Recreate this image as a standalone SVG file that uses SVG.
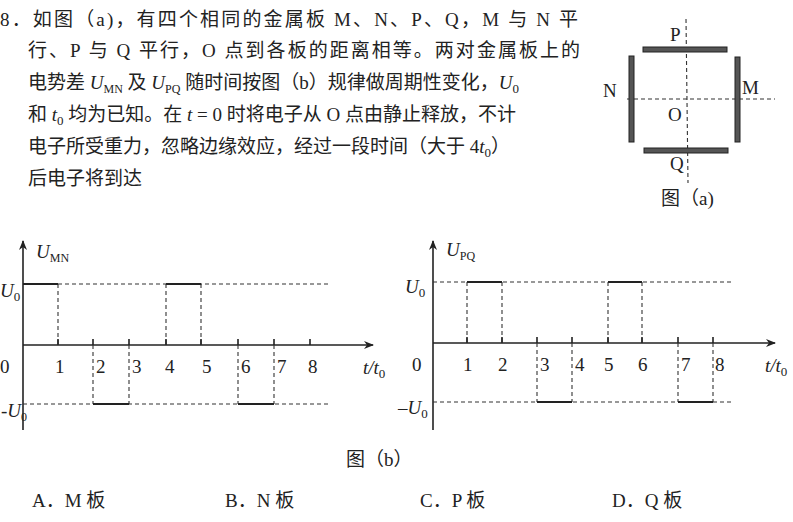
<svg xmlns="http://www.w3.org/2000/svg" width="793" height="522" viewBox="0 0 793 522">
<style>
text{font-family:"Liberation Serif","Noto Sans CJK SC",serif;font-size:19px;fill:#222}
.ax{stroke:#222;stroke-width:1.6;fill:none}
.d{stroke:#333;stroke-width:1.1;stroke-dasharray:4 3;fill:none}
.w{stroke:#222;stroke-width:1.8;fill:none}
.pl{fill:#555;stroke:#222;stroke-width:1}
</style>
<defs><marker id="ar" markerWidth="10" markerHeight="8" refX="9" refY="4" orient="auto" markerUnits="userSpaceOnUse"><path d="M0,0 L10,4 L0,8 L3,4 Z" fill="#222"/></marker></defs>
<g id="question">
<text x="0" y="26" textLength="578">8．如图（a)，有四个相同的金属板 M、N、P、Q，M 与 N 平</text>
<text x="28" y="57" textLength="552">行、P 与 Q 平行，O 点到各板的距离相等。两对金属板上的</text>
<text x="28" y="89">电势差 <tspan font-style="italic">U</tspan><tspan font-size="12" dy="4">MN</tspan><tspan dy="-4"> 及 </tspan><tspan font-style="italic">U</tspan><tspan font-size="12" dy="4">PQ</tspan><tspan dy="-4"> 随时间按图（b）规律做周期性变化，</tspan><tspan font-style="italic">U</tspan><tspan font-size="13" dy="4">0</tspan></text>
<text x="28" y="121">和 <tspan font-style="italic">t</tspan><tspan font-size="13" dy="4">0</tspan><tspan dy="-4"> 均为已知。在 </tspan><tspan font-style="italic">t</tspan> = 0 时将电子从 O 点由静止释放，不计</text>
<text x="28" y="153">电子所受重力，忽略边缘效应，经过一段时间（大于 4<tspan font-style="italic">t</tspan><tspan font-size="13" dy="4">0</tspan><tspan dy="-4">）</tspan></text>
<text x="28" y="185">后电子将到达</text>
</g>
<g id="figa">
<line class="d" x1="627" y1="99" x2="775" y2="99"/>
<line class="d" x1="686" y1="19" x2="688" y2="183"/>
<rect class="pl" x="643" y="47" width="84" height="5"/>
<rect class="pl" x="644" y="148" width="84" height="5"/>
<rect class="pl" x="629" y="56" width="5" height="86"/>
<rect class="pl" x="735" y="57" width="5" height="85"/>
<text x="670" y="41">P</text><text x="603" y="97">N</text><text x="742" y="94">M</text>
<text x="668" y="121">O</text><text x="670" y="170">Q</text>
<text x="661" y="205">图（a)</text>
</g>
<g id="graph1">
<line class="ax" x1="23" y1="430" x2="23" y2="241" marker-end="url(#ar)"/>
<line class="ax" x1="23" y1="345" x2="373" y2="345" marker-end="url(#ar)"/>
<path class="d" d="M23,284H330M23,404H330M58,284V345M93,345V404M129,345V404M166,284V345M201,284V345M238,345V404M274,345V404"/>
<path class="w" d="M23,284H58M166,284H201M93,404H129M238,404H274"/>
<path class="ax" d="M58,339V345M93,339V345M129,339V345M166,339V345M201,339V345M238,339V345M274,339V345M310,339V345"/>
<text x="36" y="258" font-style="italic">U<tspan font-size="12" font-style="normal" dy="4">MN</tspan></text>
<text x="0" y="297" font-style="italic">U<tspan font-size="13" font-style="normal" dy="4">0</tspan></text>
<text x="1" y="417" font-size="17">-<tspan font-style="italic">U</tspan><tspan font-size="12" dy="4">0</tspan></text>
<text x="0" y="373">0</text>
<text x="55" y="373">1</text><text x="96" y="373">2</text><text x="132" y="373">3</text><text x="165" y="373">4</text><text x="202" y="373">5</text><text x="241" y="373">6</text><text x="277" y="373">7</text><text x="308" y="373">8</text>
<text x="363" y="374" font-style="italic">t/t<tspan font-size="13" font-style="normal" dy="4">0</tspan></text>
</g>
<g id="graph2">
<line class="ax" x1="433" y1="430" x2="433" y2="241" marker-end="url(#ar)"/>
<line class="ax" x1="433" y1="343" x2="775" y2="343" marker-end="url(#ar)"/>
<path class="d" d="M433,282H733M433,402H733M467,282V343M502,282V343M537,343V402M572,343V402M608,282V343M642,282V343M678,343V402M713,343V402"/>
<path class="w" d="M467,282H502M608,282H642M537,402H572M678,402H713"/>
<path class="ax" d="M467,337V343M502,337V343M537,337V343M572,337V343M608,337V343M642,337V343M678,337V343M713,337V343"/>
<text x="446" y="256" font-style="italic">U<tspan font-size="12" font-style="normal" dy="4">PQ</tspan></text>
<text x="405" y="293" font-style="italic">U<tspan font-size="13" font-style="normal" dy="4">0</tspan></text>
<text x="398" y="414">–<tspan font-style="italic">U</tspan><tspan font-size="13" dy="4">0</tspan></text>
<text x="412" y="371">0</text>
<text x="463" y="371">1</text><text x="498" y="371">2</text><text x="540" y="371">3</text><text x="575" y="371">4</text><text x="604" y="371">5</text><text x="638" y="371">6</text><text x="681" y="371">7</text><text x="715" y="371">8</text>
<text x="765" y="372" font-style="italic">t/t<tspan font-size="13" font-style="normal" dy="4">0</tspan></text>
</g>
<g id="options">
<text x="346" y="466">图（b）</text>
<text x="32" y="507">A．M 板</text>
<text x="225" y="507">B．N 板</text>
<text x="420" y="507">C．P 板</text>
<text x="612" y="507">D．Q 板</text>
</g>
</svg>
